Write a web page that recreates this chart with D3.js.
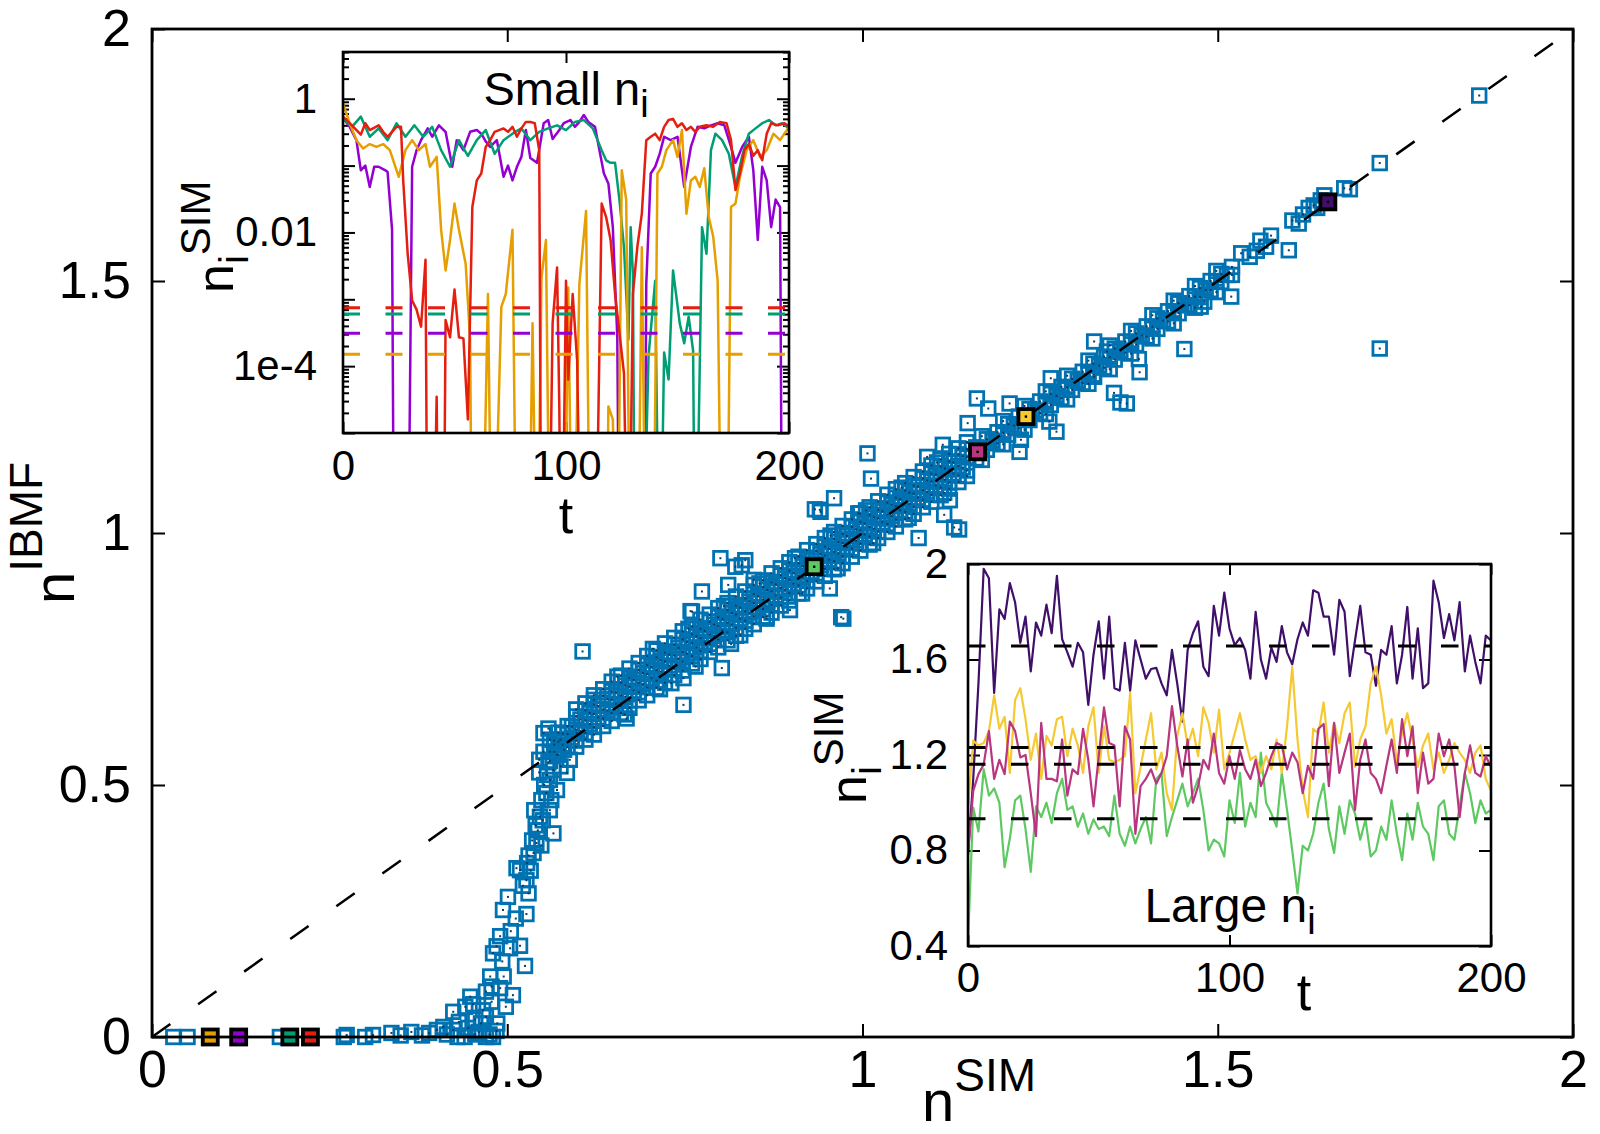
<!DOCTYPE html>
<html>
<head>
<meta charset="utf-8">
<script src="https://cdn.jsdelivr.net/npm/d3@7"></script>
<style>
  body { margin: 0; background: #fff; }
  svg { display: block; font-family: "Liberation Sans", Arial, sans-serif; }
</style>
</head>
<body>
<script>
// ---------- data ----------
const mainTicks = [0, 0.5, 1, 1.5, 2];
const mainTickLabels = ["0", "0.5", "1", "1.5", "2"];

// [n SIM, n IBMF] for every node
const bandPts = [
  [0.560,0.548],[0.560,0.566],[0.560,0.590],[0.572,0.560],[0.572,0.586],[0.572,0.604],
  [0.585,0.575],[0.585,0.601],[0.585,0.617],[0.597,0.588],[0.597,0.610],[0.597,0.636],
  [0.610,0.603],[0.610,0.628],[0.610,0.648],[0.622,0.615],[0.622,0.641],[0.622,0.660],
  [0.635,0.632],[0.635,0.650],[0.635,0.677],[0.647,0.643],[0.647,0.669],[0.647,0.686],
  [0.660,0.657],[0.660,0.678],[0.660,0.703],[0.672,0.668],[0.672,0.695],[0.672,0.713],
  [0.685,0.684],[0.685,0.703],[0.685,0.728],[0.697,0.694],[0.697,0.720],[0.697,0.738],
  [0.710,0.707],[0.710,0.728],[0.710,0.753],[0.722,0.720],[0.722,0.745],[0.722,0.763],
  [0.735,0.731],[0.735,0.757],[0.735,0.778],[0.747,0.745],[0.747,0.764],[0.747,0.789],
  [0.760,0.756],[0.760,0.781],[0.760,0.799],[0.772,0.766],[0.772,0.791],[0.772,0.810],
  [0.785,0.780],[0.785,0.799],[0.785,0.824],[0.797,0.789],[0.797,0.815],[0.797,0.833],
  [0.810,0.803],[0.810,0.822],[0.810,0.847],[0.822,0.812],[0.822,0.838],[0.822,0.856],
  [0.835,0.826],[0.835,0.845],[0.835,0.870],[0.847,0.835],[0.847,0.861],[0.847,0.879],
  [0.860,0.849],[0.860,0.868],[0.860,0.893],[0.872,0.858],[0.872,0.884],[0.872,0.902],
  [0.885,0.872],[0.885,0.891],[0.885,0.916],[0.897,0.881],[0.897,0.907],[0.897,0.925],
  [0.910,0.896],[0.910,0.915],[0.910,0.940],[0.922,0.905],[0.922,0.931],[0.922,0.949],
  [0.935,0.920],[0.935,0.939],[0.935,0.964],[0.947,0.929],[0.947,0.955],[0.947,0.973],
  [0.960,0.944],[0.960,0.963],[0.960,0.988],[0.972,0.954],[0.972,0.980],[0.972,0.998],
  [0.985,0.969],[0.985,0.988],[0.985,1.012],[0.997,0.979],[0.997,1.005],[0.997,1.022],
  [1.010,0.993],[1.010,1.012],[1.010,1.036],[1.022,1.003],[1.022,1.029],[1.022,1.046],
  [1.035,1.018],[1.035,1.037],[1.035,1.060],[1.047,1.027],[1.047,1.053],[1.047,1.070],
  [1.060,1.042],[1.060,1.061],[1.060,1.084],[1.072,1.052],[1.072,1.078],[1.072,1.094],
  [1.085,1.066],[1.085,1.085],[1.085,1.108],[1.097,1.076],[1.097,1.102],[1.097,1.118],
  [1.110,1.090],[1.110,1.109],[1.110,1.132],[1.122,1.100],[1.122,1.126],[1.122,1.142],
  [1.135,1.114],[1.135,1.133],[1.135,1.156],[1.147,1.124],[1.147,1.150],[1.147,1.166],
  [0.566,0.566],[0.566,0.588],[0.578,0.580],[0.578,0.602],[0.591,0.594],[0.591,0.616],
  [0.603,0.607],[0.603,0.630],[0.616,0.621],[0.616,0.643],[0.628,0.634],[0.628,0.657],
  [0.641,0.648],[0.641,0.670],[0.653,0.661],[0.653,0.684],[0.666,0.675],[0.666,0.697],
  [0.678,0.687],[0.678,0.709],[0.691,0.700],[0.691,0.722],[0.703,0.712],[0.703,0.734],
  [0.716,0.725],[0.716,0.747],[0.728,0.737],[0.728,0.759],[0.741,0.750],[0.741,0.772],
  [0.753,0.761],[0.753,0.783],[0.766,0.773],[0.766,0.795],[0.778,0.784],[0.778,0.806],
  [0.791,0.796],[0.791,0.818],[0.803,0.807],[0.803,0.829],[0.816,0.819],[0.816,0.841],
  [0.828,0.830],[0.828,0.852],[0.841,0.842],[0.841,0.864],[0.853,0.853],[0.853,0.875],
  [0.866,0.865],[0.866,0.887],[0.878,0.876],[0.878,0.898],[0.891,0.888],[0.891,0.910],
  [0.903,0.899],[0.903,0.921],[0.916,0.912],[0.916,0.934],[0.928,0.923],[0.928,0.945],
  [0.941,0.936],[0.941,0.958],[0.953,0.947],[0.953,0.969],[0.966,0.960],[0.966,0.982],
  [0.978,0.972],[0.978,0.994],[0.991,0.985],[0.991,1.007],[1.003,0.997],[1.003,1.019],
  [1.016,1.009],[1.016,1.031],[1.028,1.021],[1.028,1.043],[1.041,1.034],[1.041,1.056],
  [1.053,1.045],[1.053,1.067],[1.066,1.058],[1.066,1.080],[1.078,1.070],[1.078,1.092],
  [1.091,1.082],[1.091,1.104],[1.103,1.094],[1.103,1.116],[1.116,1.106],[1.116,1.128],
  [1.128,1.118],[1.128,1.140],[1.141,1.130],[1.141,1.152],
  [0.597,0.576],[0.597,0.650],[0.610,0.590],[0.610,0.662],[0.622,0.600],[0.622,0.678],
  [0.635,0.617],[0.635,0.690],[0.647,0.627],[0.647,0.705],[0.660,0.643],[0.660,0.717],
  [0.672,0.653],[0.672,0.731],[0.685,0.668],[0.685,0.742],[0.697,0.678],[0.697,0.756],
  [0.710,0.693],[0.710,0.767],[0.722,0.703],[0.722,0.781],[0.735,0.718],[0.735,0.792],
  [0.747,0.727],[0.747,0.805],[0.760,0.741],[0.760,0.815],[0.772,0.750],[0.772,0.828],
  [0.785,0.764],[0.785,0.838],[0.797,0.773],[0.797,0.851],[0.810,0.787],[0.810,0.861],
  [0.822,0.796],[0.822,0.874],[0.835,0.810],[0.835,0.884],[0.847,0.819],[0.847,0.897],
  [0.860,0.833],[0.860,0.906],[0.872,0.842],[0.872,0.920],[0.885,0.856],[0.885,0.930],
  [0.897,0.866],[0.897,0.942],[0.910,0.880],[0.910,0.953],[0.922,0.890],[0.922,0.966],
  [0.935,0.904],[0.935,0.978],[0.947,0.915],[0.947,0.990],[0.960,0.928],[0.960,1.002],
  [0.972,0.940],[0.972,1.014],[0.985,0.953],[0.985,1.027],[0.997,0.965],[0.997,1.039],
  [1.010,0.977],[1.010,1.051],[1.022,0.990],[1.022,1.063],[1.035,1.002],[1.035,1.076],
  [1.047,1.013],[1.047,1.087],[1.060,1.027],[1.060,1.099],[1.072,1.038],[1.072,1.111],
  [1.085,1.051],[1.085,1.122],[1.097,1.062],[1.097,1.134],[1.110,1.075],[1.110,1.146],
  [1.122,1.088],[1.122,1.157],[1.135,1.101],[1.135,1.168],[1.147,1.113],[1.147,1.180],
  [0.655,0.715],[0.665,0.640],[0.705,0.770],[0.715,0.690],[0.755,0.810],[0.765,0.735],
  [0.805,0.855],[0.815,0.780],[0.855,0.900],[0.865,0.830],[0.905,0.950],[0.915,0.880],
  [0.955,0.995],[0.965,0.930],[1.005,1.045],[1.015,0.980],[1.055,1.090],[1.065,1.030],
  [1.105,1.140],[1.115,1.080],
  [1.160,1.148],[1.160,1.170],[1.175,1.165],[1.175,1.186],[1.190,1.178],[1.190,1.200],
  [1.205,1.195],[1.205,1.216],[1.220,1.208],[1.220,1.231],[1.235,1.224],[1.235,1.246],
  [1.250,1.238],[1.250,1.261],[1.265,1.254],[1.265,1.276],[1.280,1.268],[1.280,1.290],
  [1.295,1.284],[1.295,1.306],[1.310,1.298],[1.310,1.320],[1.325,1.314],[1.325,1.336],
  [1.340,1.328],[1.340,1.350],[1.355,1.344],[1.355,1.366],[1.370,1.358],[1.370,1.380],
  [1.385,1.374],[1.385,1.396],[1.400,1.390],[1.400,1.410],[1.415,1.405],[1.415,1.426],
  [1.430,1.420],[1.430,1.440],[1.445,1.436],[1.445,1.456],[1.460,1.452],[1.460,1.470],
  [1.475,1.468],[1.475,1.486],[1.490,1.482],[1.490,1.500],[1.505,1.498],[1.505,1.514],
  [1.520,1.512],[1.520,1.528],
  [1.168,1.145],[1.168,1.192],[1.198,1.176],[1.198,1.222],[1.228,1.205],[1.228,1.252],
  [1.258,1.236],[1.258,1.281],[1.288,1.265],[1.288,1.312],[1.318,1.296],[1.318,1.342],
  [1.348,1.325],[1.348,1.372],[1.378,1.356],[1.378,1.401],[1.408,1.386],[1.408,1.432],
  [1.438,1.416],[1.438,1.461],[1.468,1.447],[1.468,1.490],[1.498,1.478],[1.498,1.520],
  [1.168,1.168],[1.183,1.183],[1.198,1.199],[1.213,1.213],[1.228,1.229],[1.243,1.243],
  [1.258,1.259],[1.273,1.272],[1.288,1.289],[1.303,1.302],[1.318,1.319],[1.333,1.332],
  [1.348,1.349],[1.363,1.362],[1.378,1.379],[1.393,1.392],[1.408,1.409],[1.423,1.422],
  [1.438,1.439],[1.453,1.452],[1.468,1.469],[1.483,1.482],[1.498,1.499],[1.513,1.512]
];
const lowPts = [
  [0.03,0],[0.05,0],[0.18,0],[0.27,0],[0.274,0.004],[0.3,0],[0.311,0.004],[0.337,0.008],[0.35,0.003],
  [0.365,0.01],[0.38,0.003],[0.39,0.008],[0.401,0.014],[0.41,0.02],[0.415,0.005],[0.424,0.014],
  [0.424,0.05],[0.43,0],[0.432,0.03],[0.44,0],[0.441,0.06],[0.445,0.018],[0.448,0.08],[0.452,0.065],
  [0.455,0.035],[0.455,0.005],[0.46,0.01],[0.463,0.027],[0.466,0.053],[0.47,0.04],[0.47,0.09],
  [0.47,0],[0.475,0.005],[0.476,0.12],[0.478,0.07],[0.478,0.1],[0.48,0.166],[0.48,0],[0.485,0.012],
  [0.485,0.18],[0.486,0.027],[0.49,0.097],[0.49,0.2],[0.493,0.15],[0.494,0.252],[0.495,0.12],
  [0.498,0.06],[0.501,0.278],[0.504,0.176],[0.505,0.21],[0.508,0.083],[0.512,0.235],[0.513,0.335],
  [0.518,0.181],[0.518,0.331],[0.522,0.3],[0.525,0.141],[0.527,0.244],[0.527,0.311],[0.528,0.345],
  [0.53,0.285],[0.53,0.36],[0.533,0.33],[0.535,0.39],[0.537,0.365],[0.538,0.45],[0.54,0.42],
  [0.541,0.385],[0.543,0.41],[0.545,0.525],[0.545,0.55],[0.546,0.437],[0.548,0.47],[0.548,0.38],
  [0.55,0.43],[0.551,0.566],[0.551,0.603],[0.552,0.5],[0.555,0.484],[0.556,0.52],[0.558,0.545],
  [0.558,0.612],[0.56,0.45],[0.56,0.51],[0.562,0.47],[0.565,0.404],[0.565,0.53],[0.566,0.58],
  [0.57,0.49],[0.57,0.56],[0.575,0.537],[0.575,0.59],[0.58,0.57],[0.584,0.524],[0.588,0.55]
];
const outlierPts = [
  [0.606,0.765],[0.622,0.669],[0.598,0.603],[0.668,0.632],[0.731,0.702],[0.748,0.712],[0.748,0.659],
  [0.758,0.845],[0.76,0.844],[0.774,0.884],[0.80,0.95],[0.802,0.732],[0.811,0.897],[0.821,0.933],
  [0.828,0.797],[0.83,0.936],[0.835,0.946],[0.847,0.907],[0.865,0.834],[0.898,0.847],[0.933,1.047],
  [0.94,1.046],[0.941,1.042],[0.954,0.89],[0.96,1.069],[0.97,0.833],[0.973,0.83],[0.994,1.039],
  [1.007,1.158],[1.012,1.108],[1.079,0.99],[1.091,1.151],[1.113,1.175],[1.115,1.036],[1.123,1.065],
  [1.129,1.011],[1.136,1.007],[1.148,1.218],[1.161,1.267],[1.177,1.247],[1.207,1.257],[1.221,1.161],
  [1.223,1.185],[1.263,1.221],[1.265,1.307],[1.273,1.201],[1.326,1.31],[1.326,1.38],[1.344,1.36],
  [1.354,1.278],[1.363,1.259],[1.372,1.257],[1.389,1.345],[1.39,1.319],[1.444,1.456],[1.453,1.365],
  [1.476,1.449],[1.481,1.459],[1.519,1.469],[1.728,1.366],
  [1.533,1.555],[1.545,1.548],[1.555,1.56],[1.56,1.58],[1.568,1.568],[1.575,1.59],[1.60,1.561],
  [1.605,1.62],[1.614,1.614],[1.62,1.632],[1.628,1.645],[1.635,1.65],[1.64,1.645],[1.645,1.66],
  [1.65,1.67],[1.678,1.684],[1.686,1.682],[1.728,1.734],[1.868,1.868]
];

// highlighted nodes (same order as the inset series)
const smallNodeSIM = [0.082, 0.122, 0.194, 0.223];
const smallNodeIBMF = [0, 0, 0, 0];
const largeNodeSIM = [0.932, 1.162, 1.230, 1.655];
const largeNodeIBMF = [0.933, 1.161, 1.231, 1.657];

// inset "Small n_i": [t, n_i^SIM]
const smallOrange = [[0,0.85],[3,0.43],[6,0.24],[9,0.18],[12,0.21],[15,0.19],[18,0.21],[21,0.17],[25,0.068],
  [28,0.17],[31,0.24],[34,0.17],[37,0.21],[39,0.096],[42,0.135],[44,0.011],[46,0.0027],[48,0.0077],
  [50,0.027],[52,0.011],[55,0.0034],[57,2.5e-4],[58,0],[62,0],[65,0.0012],[67,0],[71,7.7e-4],
  [73,0.0012],[76,0.011],[78,0],[83,0],[85,4.4e-4],[87,0],[89,0.0021],[91,0.0077],[93,0],[99,0],
  [101,0.0015],[103,0],[106,0.0017],[109,0.021],[111,0],[118,0],[119,2.5e-5],[121,1.6e-5],[123,0],
  [125,0.085],[127,0.031],[129,0],[132,0],[134,0.006],[136,0],[139,0],[141,0.076],[143,0.096],
  [145,0.17],[148,0.24],[150,0.135],[152,0.34],[154,0.019],[156,0.06],[158,0.068],[160,0.048],
  [162,0.091],[164,0.017],[166,0.0087],[168,0.0019],[170,0],[172,0],[174,0.024],[176,0.027],
  [178,0.068],[181,0.17],[184,0.24],[187,0.135],[190,0.17],[193,0.3],[196,0.24],[200,0.38]];
const smallPurple = [[0,0.51],[3,0.38],[6,0.24],[8,0.085],[10,0.1],[12,0.048],[14,0.096],[16,0.096],
  [19,0.085],[20,0.08],[22,0.011],[23,0],[29,0],[31,0.096],[33,0.17],[35,0.24],[38,0.36],[40,0.27],
  [43,0.4],[46,0.32],[49,0.096],[51,0.24],[54,0.17],[57,0.32],[60,0.34],[62,0.3],[64,0.23],[66,0.19],
  [69,0.24],[72,0.068],[74,0.1],[76,0.06],[78,0.096],[80,0.135],[82,0.34],[84,0.13],[87,0.11],
  [90,0.43],[92,0.48],[94,0.25],[97,0.34],[99,0.43],[102,0.48],[104,0.38],[106,0.45],[108,0.57],
  [110,0.45],[113,0.38],[115,0.17],[117,0.076],[119,0.054],[121,0.012],[123,2.7e-4],[124,0],[135,0],
  [136,0.0017],[138,0.076],[140,0.096],[142,0.15],[144,0.27],[147,0.24],[150,0.27],[153,0.048],
  [156,0.19],[159,0.38],[162,0.36],[165,0.4],[168,0.43],[171,0.4],[174,0.19],[176,0.11],[179,0.19],
  [182,0.27],[184,0.085],[186,0.0077],[188,0.096],[190,0.06],[192,0.012],[194,0.031],[196,0.024],
  [197,0],[200,0]];
const smallGreen = [[0,0.5],[4,0.38],[8,0.54],[12,0.27],[16,0.36],[20,0.24],[24,0.43],[28,0.27],[32,0.4],
  [36,0.27],[40,0.38],[44,0.17],[48,0.096],[52,0.24],[56,0.14],[60,0.24],[64,0.34],[68,0.15],[72,0.24],
  [76,0.3],[80,0.36],[84,0.24],[88,0.32],[92,0.36],[96,0.4],[100,0.34],[104,0.45],[108,0.48],[112,0.36],
  [116,0.17],[118,0.12],[120,0.11],[122,0.11],[124,0.03],[126,0.006],[128,2.5e-4],[129,0.012],
  [130,0.0024],[131,0],[134,0],[137,1.4e-4],[140,0.0019],[142,0],[144,1.6e-4],[146,6.3e-5],
  [148,0.0027],[151,4.4e-4],[153,2.2e-4],[155,5.5e-4],[157,1.7e-4],[158,0],[161,0.012],[163,0.0048],
  [165,0.17],[167,0.3],[170,0.24],[173,0.15],[176,0.048],[179,0.14],[182,0.3],[185,0.36],[188,0.43],
  [191,0.48],[194,0.4],[197,0.43],[200,0.36]];
const smallRed = [[0,0.54],[4,0.4],[8,0.29],[10,0.43],[12,0.34],[16,0.4],[18,0.32],[20,0.27],[24,0.38],
  [26,0.38],[27,0.06],[29,0.0048],[31,9.6e-4],[33,7e-4],[35,3.9e-4],[37,0.0039],[38,0],[40,0],
  [42,3.5e-5],[43,0],[45,0],[46,4.9e-4],[48,2.7e-4],[50,0.0014],[52,2.7e-4],[54,2.6e-4],[56,1.6e-5],
  [58,0.024],[60,0.06],[62,0.076],[64,0.19],[66,0.24],[68,0.32],[70,0.34],[72,0.36],[74,0.32],[76,0.38],
  [78,0.27],[80,0.36],[82,0.45],[84,0.45],[86,0.43],[88,0.17],[89,0],[92,0],[94,4.4e-4],[96,0.003],
  [97,2.5e-5],[98,0],[100,0.0019],[101,6.3e-5],[103,0.0012],[105,1.2e-4],[107,0],[113,0],[116,0.027],
  [118,0.017],[120,0.0077],[122,0.0012],[124,3.1e-4],[126,7.8e-5],[128,0],[130,0.0012],[132,0.0061],
  [134,0.019],[136,0.24],[138,0.27],[140,0.3],[142,0.24],[144,0.38],[146,0.48],[148,0.5],[150,0.38],
  [152,0.43],[154,0.34],[156,0.38],[158,0.32],[160,0.38],[163,0.4],[166,0.38],[169,0.45],[172,0.43],
  [174,0.24],[176,0.043],[178,0.076],[180,0.17],[182,0.21],[184,0.14],[186,0.17],[188,0.12],[190,0.3],
  [192,0.43],[195,0.4],[198,0.43],[200,0.38]];
// dashed reference levels: red, green, purple, orange
const smallLevels = [7.5e-4, 6.0e-4, 3.1e-4, 1.5e-4];
const smallYTicks = [1e-5, 1e-4, 1e-3, 1e-2, 1e-1, 1];
const smallYLabels = ["", "1e-4", "", "0.01", "", "1"];
const tTicks = [0, 100, 200];

// inset "Large n_i": values at t = 0, 2, 4, ..., 200
const largeT = d3.range(0, 201, 2);
const largePurple = [0.78,1.1,1.5,1.98,1.94,1.46,1.81,1.77,1.92,1.84,
  1.67,1.78,1.55,1.755,1.70,1.83,1.71,1.95,1.685,1.63,
  1.57,1.67,1.63,1.41,1.62,1.76,1.52,1.78,1.48,1.47,
  1.67,1.47,1.68,1.60,1.52,1.56,1.565,1.50,1.45,1.64,
  1.50,1.34,1.64,1.71,1.76,1.57,1.53,1.825,1.70,1.88,
  1.73,1.66,1.69,1.64,1.52,1.80,1.60,1.52,1.65,1.59,
  1.74,1.63,1.58,1.685,1.755,1.70,1.89,1.88,1.78,1.78,
  1.62,1.85,1.80,1.53,1.68,1.825,1.63,1.62,1.49,1.64,
  1.62,1.74,1.50,1.62,1.82,1.52,1.73,1.48,1.50,1.93,
  1.84,1.69,1.79,1.68,1.84,1.55,1.70,1.59,1.50,1.70,1.68];
const largeYellow = [0.98,1.26,1.24,1.25,1.30,
  1.45,1.31,1.36,1.125,1.43,1.48,1.35,1.18,1.29,1.10,
  1.28,1.24,1.35,1.36,1.195,1.31,1.24,1.125,1.32,1.40,
  1.125,1.32,1.18,1.17,1.18,1.195,1.46,1.04,1.15,1.265,
  1.375,1.14,1.21,1.04,0.97,1.28,1.375,1.24,1.31,1.195,
  1.40,1.335,1.21,1.39,1.14,1.21,1.29,1.375,1.265,1.18,
  1.195,1.125,1.195,1.14,1.265,1.125,1.32,1.57,1.265,1.055,
  0.94,1.31,1.29,1.42,1.21,1.335,1.25,1.375,1.42,1.15,
  1.265,1.32,1.50,1.57,1.45,1.29,1.35,1.17,1.29,1.375,
  1.265,1.15,1.24,1.29,1.14,1.21,1.125,1.18,1.25,1.21,
  1.18,1.125,1.21,1.24,1.10,1.05];
const largeMagenta = [0.79,1.05,1.12,1.16,1.30,1.10,1.18,1.12,1.34,1.30,
  1.19,1.20,1.04,0.86,1.335,1.10,1.10,1.09,1.265,1.03,
  1.14,1.12,1.31,1.18,0.985,1.195,1.40,1.25,1.24,0.985,
  1.32,1.265,0.87,1.07,1.10,1.14,1.08,1.125,1.195,1.405,
  1.24,1.11,1.265,1.0,1.07,1.18,1.14,1.29,1.125,1.08,
  1.195,1.10,1.22,1.14,1.10,1.18,1.07,1.125,1.195,1.25,
  1.24,1.14,1.21,1.17,1.04,1.155,1.10,1.31,1.33,1.07,
  1.335,1.125,1.21,1.29,0.97,1.18,1.265,1.125,1.10,1.04,
  1.155,1.265,1.125,1.35,1.195,1.32,1.04,1.21,1.08,1.10,
  1.29,1.195,1.265,1.155,0.94,1.125,1.24,1.125,1.11,1.195,1.15];
const largeGreen = [0.42,0.98,0.88,1.14,1.03,1.06,1.0,0.73,0.85,1.01,
  1.03,0.89,0.71,0.985,0.94,1.0,0.915,1.04,1.10,0.97,
  0.985,0.90,0.955,0.87,0.93,0.89,0.90,0.86,1.03,0.87,
  0.82,0.90,0.83,0.89,0.94,0.83,1.10,1.125,0.86,0.94,
  1.01,1.08,0.985,1.04,1.10,0.97,0.80,0.845,0.83,0.775,
  1.01,0.915,1.125,0.90,1.0,0.94,1.21,1.0,0.955,0.90,
  1.125,0.97,0.80,0.62,0.82,0.80,0.87,1.0,1.08,0.89,
  0.79,0.985,0.87,1.01,0.955,0.845,0.93,0.775,0.80,0.90,
  0.845,1.01,0.87,0.76,0.955,0.845,1.0,0.90,0.87,0.76,
  0.985,1.01,0.87,0.845,0.985,1.125,1.04,0.915,1.01,0.955,0.97];
const largeYTicks = [0.4, 0.8, 1.2, 1.6, 2];

// ---------- styles ----------
const blue = "#0072b2";
const smallColors = ["#e69f00", "#9400d3", "#009e73", "#e51e10"];   // orange, purple, green, red
const largeColors = ["#5ec962", "#b8357f", "#f5c932", "#3f0f6a"];   // green, magenta, yellow, dark purple

const svg = d3.select("body").append("svg").attr("width", 1600).attr("height", 1134);

// ---------- main panel ----------
const x = d3.scaleLinear().domain([0, 2]).range([152, 1573]);
const y = d3.scaleLinear().domain([0, 2]).range([1037, 29]);

function styleAxis(g, size) {
  g.select(".domain").remove();
  g.selectAll(".tick line").attr("stroke", "#000").attr("stroke-width", 2);
  g.selectAll(".tick text").attr("fill", "#000")
    .style("font-size", size + "px").style("font-family", "Liberation Sans, Arial, sans-serif");
}

svg.append("g").attr("transform", "translate(0,1037)")
  .call(d3.axisBottom(x).tickValues(mainTicks).tickSizeInner(-13).tickSizeOuter(0).tickPadding(13)
    .tickFormat((d, i) => mainTickLabels[i]))
  .call(g => styleAxis(g, 52));
svg.append("g").attr("transform", "translate(0,29)")
  .call(d3.axisTop(x).tickValues(mainTicks).tickSizeInner(-13).tickSizeOuter(0).tickFormat(""))
  .call(g => styleAxis(g, 52));
svg.append("g").attr("transform", "translate(152,0)")
  .call(d3.axisLeft(y).tickValues(mainTicks).tickSizeInner(-13).tickSizeOuter(0).tickPadding(21)
    .tickFormat((d, i) => mainTickLabels[i]))
  .call(g => styleAxis(g, 52));
svg.append("g").attr("transform", "translate(1573,0)")
  .call(d3.axisRight(y).tickValues(mainTicks).tickSizeInner(-13).tickSizeOuter(0).tickFormat(""))
  .call(g => styleAxis(g, 52));

const allBlue = bandPts.concat(lowPts, outlierPts);
const pts = svg.append("g");
pts.selectAll("rect.sq").data(allBlue).enter().append("rect")
  .attr("class", "sq")
  .attr("x", d => x(d[0]) - 6.8).attr("y", d => y(d[1]) - 6.8)
  .attr("width", 13.6).attr("height", 13.6)
  .attr("fill", "none").attr("stroke", blue).attr("stroke-width", 2.8);
pts.selectAll("rect.dot").data(allBlue).enter().append("rect")
  .attr("class", "dot")
  .attr("x", d => x(d[0]) - 1).attr("y", d => y(d[1]) - 1)
  .attr("width", 2).attr("height", 2).attr("fill", "#0a3d66");

svg.append("line")
  .attr("x1", x(0)).attr("y1", y(0)).attr("x2", x(2)).attr("y2", y(2))
  .attr("stroke", "#000").attr("stroke-width", 2.5).attr("stroke-dasharray", "22.5 34");

function highlight(sim, ibmf, colors) {
  const g = svg.append("g");
  sim.forEach((s, i) => {
    g.append("rect").attr("x", x(s) - 7.5).attr("y", y(ibmf[i]) - 7.5)
      .attr("width", 15).attr("height", 15)
      .attr("fill", colors[i]).attr("stroke", "#000").attr("stroke-width", 3.8);
    g.append("rect").attr("x", x(s) - 1.2).attr("y", y(ibmf[i]) - 1.2)
      .attr("width", 2.4).attr("height", 2.4).attr("fill", "#000");
  });
}
highlight(smallNodeSIM, smallNodeIBMF, smallColors);
highlight(largeNodeSIM, largeNodeIBMF, largeColors);

svg.append("rect").attr("x", 152).attr("y", 29).attr("width", 1421).attr("height", 1008)
  .attr("fill", "none").attr("stroke", "#000").attr("stroke-width", 2.8);

// main axis titles
const xl = svg.append("text").attr("x", 922).attr("y", 1121).style("font-size", "58px");
xl.append("tspan").text("n");
xl.append("tspan").attr("dy", -30).style("font-size", "46px").text("SIM");

const yl = svg.append("text").attr("transform", "translate(74,604) rotate(-90)").style("font-size", "58px");
yl.append("tspan").text("n");
yl.append("tspan").attr("dy", -32).style("font-size", "46px").text("IBMF");

// ---------- inset: small n_i ----------
const L1 = 343, R1 = 789, T1 = 52, B1 = 433;
const xs1 = d3.scaleLinear().domain([0, 200]).range([L1, R1]);
const ys1 = d3.scaleLog().domain([1e-5, 5]).range([B1, T1]);

svg.append("rect").attr("x", L1).attr("y", T1).attr("width", R1 - L1).attr("height", B1 - T1).attr("fill", "#fff");
svg.append("clipPath").attr("id", "clip1").append("rect")
  .attr("x", L1).attr("y", T1).attr("width", R1 - L1).attr("height", B1 - T1);

const minor1 = [];
smallYTicks.forEach(p => { for (let m = 2; m <= 9; m++) if (m * p <= 5) minor1.push(m * p); });

svg.append("g").attr("transform", `translate(0,${B1})`)
  .call(d3.axisBottom(xs1).tickValues(tTicks).tickSizeInner(-11).tickSizeOuter(0).tickPadding(17))
  .call(g => styleAxis(g, 42));
svg.append("g").attr("transform", `translate(0,${T1})`)
  .call(d3.axisTop(xs1).tickValues(tTicks).tickSizeInner(-11).tickSizeOuter(0).tickFormat(""))
  .call(g => styleAxis(g, 42));
svg.append("g").attr("transform", `translate(${L1},0)`)
  .call(d3.axisLeft(ys1).tickValues(smallYTicks).tickSizeInner(-12).tickSizeOuter(0).tickPadding(26)
    .tickFormat((d, i) => smallYLabels[i]))
  .call(g => styleAxis(g, 42));
svg.append("g").attr("transform", `translate(${L1},0)`)
  .call(d3.axisLeft(ys1).tickValues(minor1).tickSizeInner(-6).tickSizeOuter(0).tickFormat(""))
  .call(g => styleAxis(g, 42));
svg.append("g").attr("transform", `translate(${R1},0)`)
  .call(d3.axisRight(ys1).tickValues(smallYTicks).tickSizeInner(-12).tickSizeOuter(0).tickFormat(""))
  .call(g => styleAxis(g, 42));
svg.append("g").attr("transform", `translate(${R1},0)`)
  .call(d3.axisRight(ys1).tickValues(minor1).tickSizeInner(-6).tickSizeOuter(0).tickFormat(""))
  .call(g => styleAxis(g, 42));

const line1 = d3.line().x(d => xs1(d[0])).y(d => ys1(Math.max(d[1], 1e-8)));
const g1 = svg.append("g").attr("clip-path", "url(#clip1)");
[[smallPurple, "#9400d3"], [smallGreen, "#009e73"], [smallOrange, "#e69f00"], [smallRed, "#e51e10"]]
  .forEach(s => {
    g1.append("path").datum(s[0]).attr("d", line1)
      .attr("fill", "none").attr("stroke", s[1]).attr("stroke-width", 2.5).attr("stroke-linejoin", "round");
  });
["#e51e10", "#009e73", "#9400d3", "#e69f00"].forEach((c, i) => {
  g1.append("line").attr("x1", L1).attr("x2", R1)
    .attr("y1", ys1(smallLevels[i])).attr("y2", ys1(smallLevels[i]))
    .attr("stroke", c).attr("stroke-width", 3).attr("stroke-dasharray", "17 25.5");
});
svg.append("rect").attr("x", L1).attr("y", T1).attr("width", R1 - L1).attr("height", B1 - T1)
  .attr("fill", "none").attr("stroke", "#000").attr("stroke-width", 2.6);

const t1 = svg.append("text").attr("x", 566).attr("y", 105).attr("text-anchor", "middle").style("font-size", "47px");
t1.append("tspan").text("Small n");
t1.append("tspan").attr("dy", 12).style("font-size", "38px").text("i");

const yl1 = svg.append("text").attr("transform", "translate(233,293) rotate(-90)").style("font-size", "52px");
yl1.append("tspan").text("n");
yl1.append("tspan").attr("dy", 15).style("font-size", "40px").text("i");
yl1.append("tspan").attr("dy", -38).style("font-size", "42px").text("SIM");

svg.append("text").attr("x", 566).attr("y", 533).attr("text-anchor", "middle").style("font-size", "52px").text("t");

// ---------- inset: large n_i ----------
const L2 = 968, R2 = 1491, T2 = 564, B2 = 946;
const xs2 = d3.scaleLinear().domain([0, 200]).range([L2, R2]);
const ys2 = d3.scaleLinear().domain([0.4, 2]).range([B2, T2]);

svg.append("rect").attr("x", L2).attr("y", T2).attr("width", R2 - L2).attr("height", B2 - T2).attr("fill", "#fff");
svg.append("clipPath").attr("id", "clip2").append("rect")
  .attr("x", L2).attr("y", T2).attr("width", R2 - L2).attr("height", B2 - T2);

svg.append("g").attr("transform", `translate(0,${B2})`)
  .call(d3.axisBottom(xs2).tickValues(tTicks).tickSizeInner(-11).tickSizeOuter(0).tickPadding(16))
  .call(g => styleAxis(g, 42));
svg.append("g").attr("transform", `translate(0,${T2})`)
  .call(d3.axisTop(xs2).tickValues(tTicks).tickSizeInner(-11).tickSizeOuter(0).tickFormat(""))
  .call(g => styleAxis(g, 42));
svg.append("g").attr("transform", `translate(${L2},0)`)
  .call(d3.axisLeft(ys2).tickValues(largeYTicks).tickSizeInner(-12).tickSizeOuter(0).tickPadding(20)
    .tickFormat(d => d === 2 ? "2" : d3.format(".1f")(d)))
  .call(g => styleAxis(g, 42));
svg.append("g").attr("transform", `translate(${R2},0)`)
  .call(d3.axisRight(ys2).tickValues(largeYTicks).tickSizeInner(-12).tickSizeOuter(0).tickFormat(""))
  .call(g => styleAxis(g, 42));

const line2 = d3.line().x((d, i) => xs2(largeT[i])).y(d => ys2(d));
const g2 = svg.append("g").attr("clip-path", "url(#clip2)");
[[largePurple, "#3f0f6a"], [largeGreen, "#5ec962"], [largeYellow, "#f5c932"], [largeMagenta, "#b8357f"]]
  .forEach(s => {
    g2.append("path").datum(s[0]).attr("d", line2)
      .attr("fill", "none").attr("stroke", s[1]).attr("stroke-width", 2.2).attr("stroke-linejoin", "round");
  });
largeNodeIBMF.forEach(v => {
  g2.append("line").attr("x1", L2).attr("x2", R2).attr("y1", ys2(v)).attr("y2", ys2(v))
    .attr("stroke", "#000").attr("stroke-width", 3).attr("stroke-dasharray", "17.5 25.5");
});
svg.append("rect").attr("x", L2).attr("y", T2).attr("width", R2 - L2).attr("height", B2 - T2)
  .attr("fill", "none").attr("stroke", "#000").attr("stroke-width", 2.6);

const t2 = svg.append("text").attr("x", 1230).attr("y", 922).attr("text-anchor", "middle").style("font-size", "48px");
t2.append("tspan").text("Large n");
t2.append("tspan").attr("dy", 12).style("font-size", "38px").text("i");

const yl2 = svg.append("text").attr("transform", "translate(866,804) rotate(-90)").style("font-size", "52px");
yl2.append("tspan").text("n");
yl2.append("tspan").attr("dy", 15).style("font-size", "40px").text("i");
yl2.append("tspan").attr("dy", -38).style("font-size", "42px").text("SIM");

svg.append("text").attr("x", 1304).attr("y", 1010).attr("text-anchor", "middle").style("font-size", "52px").text("t");
</script>
</body>
</html>
